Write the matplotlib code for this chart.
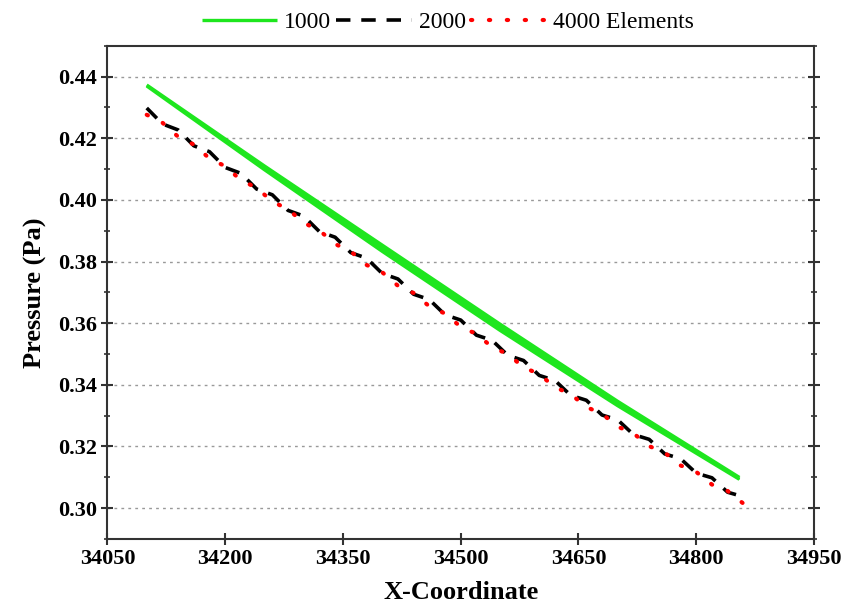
import matplotlib.pyplot as plt
import numpy as np
from matplotlib.ticker import MultipleLocator

plt.rcParams['font.family'] = ['Liberation Serif', 'DejaVu Serif']

# Dados
x_green = np.array([34100, 34250, 34400, 34550, 34700, 34855])
green_upper = np.array([0.43725, 0.41098, 0.38531, 0.35969, 0.33463, 0.30996])
green_lower = np.array([0.43695, 0.40978, 0.38331, 0.35769, 0.33323, 0.30936])

x_fine = np.arange(34100, 34861, 20)
black = np.array([0.42980, 0.42463, 0.42268, 0.41754, 0.41561, 0.41050, 0.40860,
                  0.40351, 0.40164, 0.39658, 0.39474, 0.38970, 0.38788, 0.38288,
                  0.38109, 0.37611, 0.37434, 0.36939, 0.36765, 0.36272, 0.36101,
                  0.35611, 0.35443, 0.34956, 0.34790, 0.34306, 0.34142, 0.33661,
                  0.33500, 0.33021, 0.32863, 0.32387, 0.32232, 0.31758, 0.31606,
                  0.31135, 0.30985, 0.30517, 0.30370])
red = np.array([0.42760, 0.42503, 0.42048, 0.41794, 0.41341, 0.41090, 0.40640,
                0.40391, 0.39944, 0.39698, 0.39254, 0.39010, 0.38568, 0.38328,
                0.37889, 0.37651, 0.37214, 0.36979, 0.36545, 0.36312, 0.35881,
                0.35651, 0.35223, 0.34996, 0.34570, 0.34346, 0.33922, 0.33701,
                0.33280, 0.33061, 0.32643, 0.32427, 0.32012, 0.31798, 0.31386,
                0.31175, 0.30765, 0.30557, 0.30150])

labels = ['1000', '2000', '4000 Elements']
green = '#1ee61e'

fig = plt.figure(figsize=(8.45, 6.12), dpi=100)
ax = fig.add_axes([0.1272, 0.1193, 0.8361, 0.806])

ax.fill_between(x_green, green_lower, green_upper, color=green, lw=0)
ax.plot(x_green, green_upper, color=green, lw=2.4, label=labels[0], solid_capstyle='butt')
ax.plot(x_green, green_lower, color=green, lw=2.4, solid_capstyle='butt')
ax.plot(x_fine, black, color='black', lw=2.6, linestyle=(0, (4, 3)), label=labels[1])
ax.plot(x_fine, red, color='red', lw=3, linestyle=(0, (0.3, 4)),
        dash_capstyle='round', label=labels[2])

# eixos
ax.set_xlim(34050, 34950)
ax.set_ylim(0.29, 0.45)
ax.xaxis.set_major_locator(MultipleLocator(150))
ax.yaxis.set_major_locator(MultipleLocator(0.02))
ax.yaxis.set_minor_locator(MultipleLocator(0.01))
ax.yaxis.set_major_formatter(lambda v, p: f'{v:.2f}')
ax.tick_params(axis='both', which='major', direction='inout', length=8, width=1.5,
               labelsize=16, color='#333333')
ax.tick_params(axis='y', which='both', right=True)
ax.tick_params(axis='y', which='minor', direction='inout', length=5, width=1.2, color='#333333')
for lab in ax.get_xticklabels() + ax.get_yticklabels():
    lab.set_fontweight('bold')
for s in ax.spines.values():
    s.set_linewidth(1.5)
    s.set_color('#333333')

ax.grid(axis='y', which='major', linestyle=(0, (2, 3)), color='#999999', lw=1)
ax.set_axisbelow(True)

ax.set_xlabel('X-Coordinate', fontsize=19, fontweight='bold', labelpad=8)
ax.set_ylabel('Pressure (Pa)', fontsize=19, fontweight='bold', labelpad=8)

fig.legend(loc='center', bbox_to_anchor=(0.53, 0.963), ncol=3, frameon=False,
           fontsize=17, handlelength=3.2, columnspacing=0.2, handletextpad=0.3)

fig.savefig('out.png', dpi=100)
